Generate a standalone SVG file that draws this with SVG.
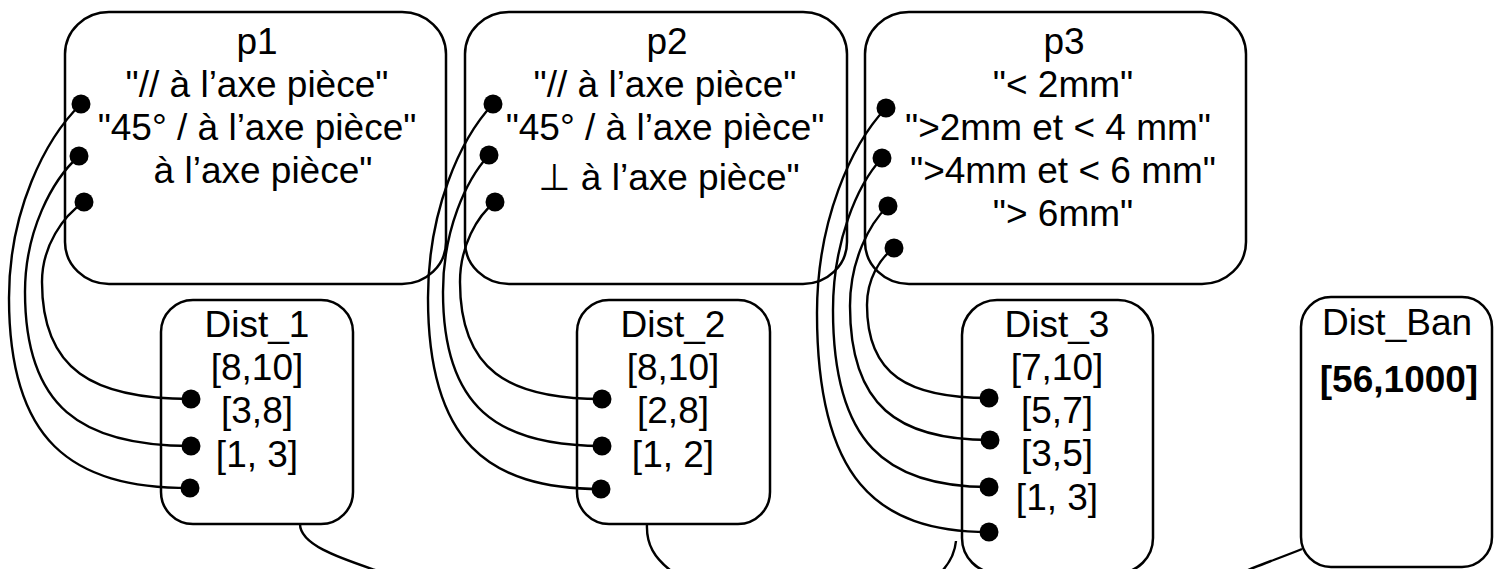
<svg xmlns="http://www.w3.org/2000/svg" width="1494" height="569" viewBox="0 0 1494 569">
<style>
.box{fill:#fff;stroke:#000;stroke-width:2.5}
.t{font-family:"Liberation Sans",Arial,"DejaVu Sans",sans-serif;font-size:37px;fill:#000;text-anchor:middle}
.b{font-weight:bold}
.c{fill:none;stroke:#000;stroke-width:2.4}
.d{fill:#000}
</style>
<rect width="1494" height="569" fill="#fff"/>
<g id="p1">
<rect class="box" x="65" y="12" width="381" height="272" rx="44" ry="42"/>
<text class="t" x="257" y="54">p1</text>
<text class="t" x="257" y="97">"// à l’axe pièce"</text>
<text class="t" x="257" y="140">"45° / à l’axe pièce"</text>
<text class="t" x="263" y="183">à l’axe pièce"</text>
</g>
<g id="p2">
<rect class="box" x="465" y="12" width="382" height="272" rx="44" ry="42"/>
<text class="t" x="667" y="54">p2</text>
<text class="t" x="665" y="97">"// à l’axe pièce"</text>
<text class="t" x="665" y="140">"45° / à l’axe pièce"</text>
<text class="t" x="669" y="190">⊥ à l’axe pièce"</text>
</g>
<g id="p3">
<rect class="box" x="865" y="12" width="381" height="272" rx="44" ry="42"/>
<text class="t" x="1064" y="54">p3</text>
<text class="t" x="1063" y="97">"&lt; 2mm"</text>
<text class="t" x="1058" y="140">"&gt;2mm et &lt; 4 mm"</text>
<text class="t" x="1063" y="183">"&gt;4mm et &lt; 6 mm"</text>
<text class="t" x="1063" y="226">"&gt; 6mm"</text>
</g>
<g id="Dist_1">
<rect class="box" x="161" y="300" width="192" height="224" rx="32" ry="32"/>
<text class="t" x="257" y="337">Dist_1</text>
<text class="t" x="257" y="380">[8,10]</text>
<text class="t" x="257" y="423">[3,8]</text>
<text class="t" x="257" y="467">[1, 3]</text>
</g>
<g id="Dist_2">
<rect class="box" x="577" y="300" width="193" height="224" rx="32" ry="32"/>
<text class="t" x="673" y="337">Dist_2</text>
<text class="t" x="673" y="380">[8,10]</text>
<text class="t" x="673" y="423">[2,8]</text>
<text class="t" x="673" y="467">[1, 2]</text>
</g>
<g id="Dist_3">
<rect class="box" x="962" y="300" width="191" height="273" rx="35" ry="35"/>
<text class="t" x="1057" y="337">Dist_3</text>
<text class="t" x="1057" y="380">[7,10]</text>
<text class="t" x="1057" y="423">[5,7]</text>
<text class="t" x="1057" y="466">[3,5]</text>
<text class="t" x="1057" y="510">[1, 3]</text>
</g>
<g id="Dist_Ban">
<rect class="box" x="1301" y="297" width="191" height="270" rx="30" ry="30"/>
<text class="t" x="1397" y="335">Dist_Ban</text>
<text class="t b" x="1399" y="392">[56,1000]</text>
</g>
<g id="connectors">
<path class="c" d="M81,104 C45,139 9,211 9,298 C9,440 70,488 190,488"/>
<path class="c" d="M79,156 C52,180 25,231 25,292 C25,407 81,446 191,446"/>
<path class="c" d="M84,202 C63,216 42,246 42,282 C42,370 93,399 191,399"/>
<path class="c" d="M493,104 C460,139 428,211 428,298 C428,441 487,489 601,489"/>
<path class="c" d="M489,155 C466,180 443,230 443,292 C443,407 497,446 602,446"/>
<path class="c" d="M495,202 C477,216 460,246 460,282 C460,370 508,399 602,399"/>
<path class="c" d="M886,108 C851,145 817,221 817,313 C817,477 875,532 989,532"/>
<path class="c" d="M882,158 C857,185 833,242 833,310 C833,443 886,487 989,487"/>
<path class="c" d="M888,206 C869,224 850,261 850,306 C850,406 898,440 990,440"/>
<path class="c" d="M894,248 C880,258 867,279 867,305 C867,375 908,398 989,398"/>
<path class="c" d="M300,524 C300,545 340,558 375,570"/>
<path class="c" d="M647,524 C646,545 655,558 670,570"/>
<path class="c" d="M956,541 C955,552 950,562 943,570"/>
<path class="c" d="M1302,549 C1285,556 1265,563 1248,570"/>
<circle class="d" cx="81" cy="104" r="9.5"/>
<circle class="d" cx="79" cy="156" r="9.5"/>
<circle class="d" cx="84" cy="202" r="9.5"/>
<circle class="d" cx="191" cy="399" r="9.5"/>
<circle class="d" cx="191" cy="446" r="9.5"/>
<circle class="d" cx="190" cy="488" r="9.5"/>
<circle class="d" cx="493" cy="104" r="9.5"/>
<circle class="d" cx="489" cy="155" r="9.5"/>
<circle class="d" cx="495" cy="202" r="9.5"/>
<circle class="d" cx="602" cy="399" r="9.5"/>
<circle class="d" cx="602" cy="446" r="9.5"/>
<circle class="d" cx="601" cy="489" r="9.5"/>
<circle class="d" cx="886" cy="108" r="9.5"/>
<circle class="d" cx="882" cy="158" r="9.5"/>
<circle class="d" cx="888" cy="206" r="9.5"/>
<circle class="d" cx="894" cy="248" r="9.5"/>
<circle class="d" cx="989" cy="398" r="9.5"/>
<circle class="d" cx="990" cy="440" r="9.5"/>
<circle class="d" cx="989" cy="487" r="9.5"/>
<circle class="d" cx="989" cy="532" r="9.5"/>
</g>
</svg>
